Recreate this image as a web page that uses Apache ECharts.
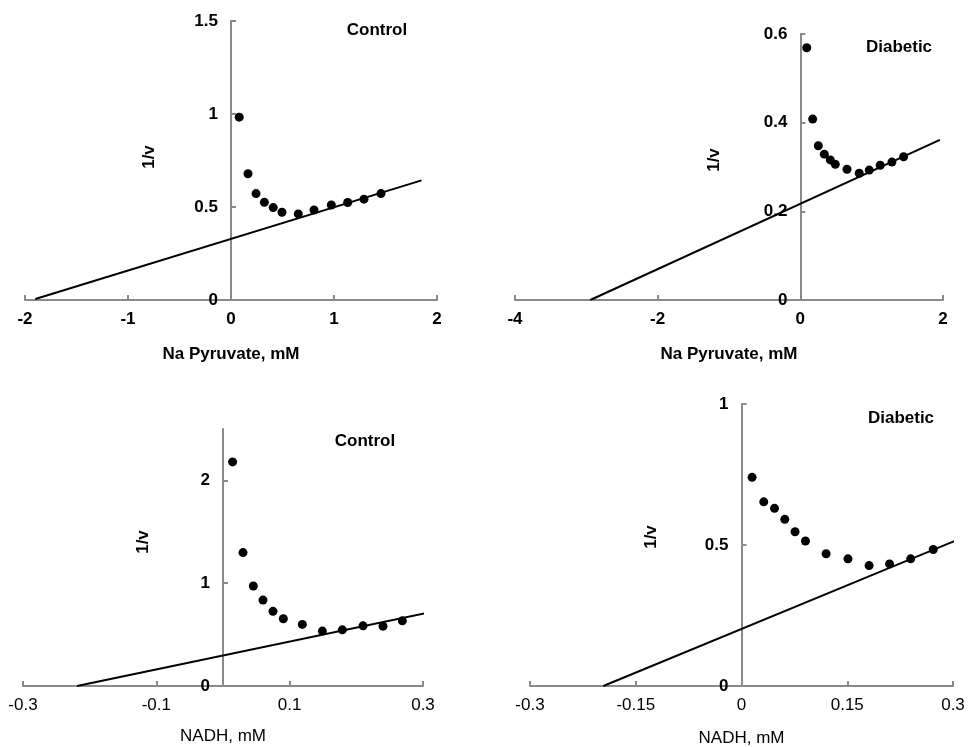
<!DOCTYPE html>
<html>
<head>
<meta charset="utf-8">
<script src="https://cdn.jsdelivr.net/npm/echarts@6/dist/echarts.min.js"></script>
<style>
  html, body { margin: 0; padding: 0; background: #fff; }
  #chart { width: 968px; height: 747px; }
</style>
</head>
<body>
<div id="chart"></div>
<script>
// Lineweaver-Burk plots
var ctrlPyrX = [0.08, 0.165, 0.243, 0.324, 0.41, 0.495, 0.653, 0.806, 0.974, 1.133, 1.291, 1.456];
var ctrlPyrY = [0.983, 0.679, 0.572, 0.525, 0.497, 0.472, 0.463, 0.484, 0.511, 0.524, 0.542, 0.572];
var ctrlPyrFit = [[-1.9, 0.005], [1.85, 0.643]];

var diabPyrX = [0.09, 0.173, 0.252, 0.336, 0.42, 0.49, 0.654, 0.826, 0.966, 1.12, 1.284, 1.448];
var diabPyrY = [0.569, 0.408, 0.348, 0.329, 0.316, 0.306, 0.295, 0.286, 0.293, 0.304, 0.311, 0.323];
var diabPyrFit = [[-2.945, 0], [1.956, 0.361]];

var ctrlNadhX = [0.0144, 0.030, 0.0455, 0.06, 0.075, 0.0905, 0.119, 0.149, 0.179, 0.21, 0.24, 0.269];
var ctrlNadhY = [2.18, 1.298, 0.973, 0.836, 0.726, 0.654, 0.599, 0.534, 0.546, 0.585, 0.582, 0.634];
var ctrlNadhFit = [[-0.219, 0], [0.306, 0.712]];

var diabNadhX = [0.015, 0.0316, 0.0468, 0.0614, 0.076, 0.0907, 0.12, 0.151, 0.181, 0.21, 0.24, 0.272];
var diabNadhY = [0.74, 0.653, 0.63, 0.591, 0.547, 0.514, 0.469, 0.451, 0.427, 0.433, 0.451, 0.484];
var diabNadhFit = [[-0.196, 0], [0.303, 0.515]];

// tick values
var pyrCtrlXTicks = [-2, -1, 0, 1, 2];
var pyrCtrlYTicks = [0, 0.5, 1, 1.5];
var pyrDiabXTicks = [-4, -2, 0, 2];
var pyrDiabYTicks = [0, 0.2, 0.4, 0.6];
var nadhCtrlXTicks = [-0.3, -0.1, 0.1, 0.3];
var nadhCtrlYTicks = [0, 1, 2];
var nadhDiabXTicks = [-0.3, -0.15, 0, 0.15, 0.3];
var nadhDiabYTicks = [0, 0.5, 1];

var panelTitles = ['Control', 'Diabetic', 'Control', 'Diabetic'];
var xNames = ['Na Pyruvate, mM', 'Na Pyruvate, mM', 'NADH, mM', 'NADH, mM'];

var FONT = '"Liberation Sans", Arial, sans-serif';
var FS = 17;
var AXIS_GRAY = '#8a8a8a';

var grids = [
    { left: 25, top: 21, width: 412, height: 279 },
    { left: 515, top: 34, width: 428, height: 266 },
    { left: 23, top: 429, width: 400, height: 257 },
    { left: 530, top: 404, width: 423, height: 282 }
];
var xRanges = [[-2, 2], [-4, 2], [-0.3, 0.3], [-0.3, 0.3]];

function zip(xs, ys) {
    return xs.map(function (x, i) { return [x, ys[i]]; });
}

function xAxisOf(idx, ticks, bold, gap) {
    return {
        type: 'value', gridIndex: idx, min: xRanges[idx][0], max: xRanges[idx][1],
        name: xNames[idx], nameLocation: 'middle', nameGap: gap,
        nameTextStyle: { color: '#000', fontFamily: FONT, fontSize: FS, fontWeight: bold ? 'bold' : 'normal' },
        axisLine: { onZero: false, lineStyle: { color: AXIS_GRAY, width: 2 } },
        axisTick: { inside: true, length: 5, customValues: ticks, lineStyle: { color: AXIS_GRAY, width: 2 } },
        axisLabel: { customValues: ticks, margin: 11, color: '#000', fontFamily: FONT, fontSize: FS, fontWeight: bold ? 'bold' : 'normal' },
        splitLine: { show: false }
    };
}

function yAxisOf(idx, max, ticks, bold) {
    // put the y axis at x = 0 by shifting it into the grid
    var r = xRanges[idx];
    var shift = grids[idx].width * (0 - r[0]) / (r[1] - r[0]);
    return {
        type: 'value', gridIndex: idx, min: 0, max: max, position: 'left', offset: -shift,
        axisLine: { show: true, onZero: false, lineStyle: { color: AXIS_GRAY, width: 2 } },
        axisTick: { show: true, inside: true, length: 5, customValues: ticks, lineStyle: { color: AXIS_GRAY, width: 2 } },
        axisLabel: { customValues: ticks, margin: 13, color: '#000', fontFamily: FONT, fontSize: FS, fontWeight: bold ? 'bold' : 'normal' },
        splitLine: { show: false }
    };
}

function dots(idx, xs, ys) {
    return {
        type: 'scatter', xAxisIndex: idx, yAxisIndex: idx, data: zip(xs, ys),
        symbol: 'circle', symbolSize: 9, itemStyle: { color: '#000', opacity: 1 }, z: 3
    };
}

function fit(idx, pts) {
    return {
        type: 'line', xAxisIndex: idx, yAxisIndex: idx, data: pts,
        showSymbol: false, lineStyle: { color: '#000', width: 2 }, z: 2
    };
}

function label(text, x, y, rotate, bold) {
    return {
        type: 'text', x: x, y: y, rotation: rotate ? Math.PI / 2 : 0,
        style: {
            text: text, fill: '#000', font: (bold ? 'bold ' : '') + FS + 'px ' + FONT,
            align: 'center', verticalAlign: 'middle'
        }
    };
}

var chart = echarts.init(document.getElementById('chart'));
chart.setOption({
    backgroundColor: '#fff',
    animation: false,
    grid: grids.map(function (g) {
        return Object.assign({ outerBoundsMode: 'none', containLabel: false }, g);
    }),
    xAxis: [
        xAxisOf(0, pyrCtrlXTicks, true, 46),
        xAxisOf(1, pyrDiabXTicks, true, 46),
        xAxisOf(2, nadhCtrlXTicks, false, 42),
        xAxisOf(3, nadhDiabXTicks, false, 44)
    ],
    yAxis: [
        yAxisOf(0, 1.5, pyrCtrlYTicks, true),
        yAxisOf(1, 0.6, pyrDiabYTicks, true),
        yAxisOf(2, 2.5, nadhCtrlYTicks, true),
        yAxisOf(3, 1, nadhDiabYTicks, true)
    ],
    graphic: [
        label(panelTitles[0], 377, 30, false, true),
        label(panelTitles[1], 899, 47, false, true),
        label(panelTitles[2], 365, 441, false, true),
        label(panelTitles[3], 901, 418, false, true),
        label('1/v', 149, 157, true, true),
        label('1/v', 714, 160, true, true),
        label('1/v', 143, 542, true, true),
        label('1/v', 651, 537, true, true)
    ],
    series: [
        fit(0, ctrlPyrFit), dots(0, ctrlPyrX, ctrlPyrY),
        fit(1, diabPyrFit), dots(1, diabPyrX, diabPyrY),
        fit(2, ctrlNadhFit), dots(2, ctrlNadhX, ctrlNadhY),
        fit(3, diabNadhFit), dots(3, diabNadhX, diabNadhY)
    ]
});
</script>
</body>
</html>
